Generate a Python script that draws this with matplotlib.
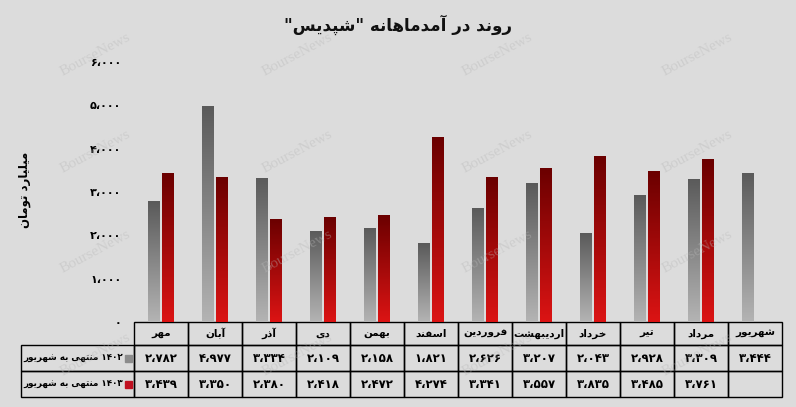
"""
plot.py – monthly revenue trend for "شپدیس" (gray vs red bars + data table).
"""
import numpy as np
import matplotlib
matplotlib.use("Agg")
import matplotlib.pyplot as plt
import matplotlib.patches as mpatches
from matplotlib.table import Table

BG = "#dcdcdc"

months = ["مهر", "آبان", "آذر", "دی", "بهمن", "اسفند", "فروردین",
          "اردیبهشت", "خرداد", "تیر", "مرداد", "شهریور"]
rev_1402 = [2782, 4977, 3334, 2109, 2158, 1821, 2626, 3207, 2043, 2928, 3309, 3444]
rev_1403 = [3439, 3350, 2380, 2418, 2472, 4274, 3341, 3557, 3835, 3485, 3761, None]
series_names = ["منتهی به شهریور", "منتهی به شهریور"]
series_years = ["۱۴۰۲", "۱۴۰۳"]
yticks = [0, 1000, 2000, 3000, 4000, 5000, 6000]

title_txt = 'روند در آمدماهانه "شپدیس"'
ylabel_txt = "میلیارد تومان"

# ── tiny arabic/persian shaper (matplotlib has no text shaping) ───────────────
# forms: isolated, final, initial, medial (2 forms = joins only to the right)
FORMS = {
    "ا": "\uFE8D\uFE8E", "آ": "\uFE81\uFE82",
    "د": "\uFEA9\uFEAA", "ذ": "\uFEAB\uFEAC",
    "ر": "\uFEAD\uFEAE", "و": "\uFEED\uFEEE",
    "ب": "\uFE8F\uFE90\uFE91\uFE92", "پ": "\uFB56\uFB57\uFB58\uFB59",
    "ت": "\uFE95\uFE96\uFE97\uFE98", "خ": "\uFEA5\uFEA6\uFEA7\uFEA8",
    "س": "\uFEB1\uFEB2\uFEB3\uFEB4", "ش": "\uFEB5\uFEB6\uFEB7\uFEB8",
    "ف": "\uFED1\uFED2\uFED3\uFED4", "ل": "\uFEDD\uFEDE\uFEDF\uFEE0",
    "م": "\uFEE1\uFEE2\uFEE3\uFEE4", "ن": "\uFEE5\uFEE6\uFEE7\uFEE8",
    "ه": "\uFEE9\uFEEA\uFEEB\uFEEC", "ی": "\uFBFC\uFBFD\uFBFE\uFBFF",
}


def fa(text):
    out = []
    for i, ch in enumerate(text):
        f = FORMS.get(ch)
        if f is None:
            out.append(ch)
            continue
        prev = text[i - 1] if i > 0 else ""
        nxt = text[i + 1] if i + 1 < len(text) else ""
        jp = prev in FORMS and len(FORMS[prev]) == 4
        jn = nxt in FORMS and len(f) == 4
        out.append(f[int(jp) + 2 * int(jn)])
    # reverse for visual order, keeping digit runs left-to-right
    runs, cur = [], ""
    for ch in out:
        if ch.isdigit() or (cur and ch in "،٬"):
            cur += ch
        else:
            if cur:
                runs.append(cur)
                cur = ""
            runs.append(ch)
    if cur:
        runs.append(cur)
    return "".join(reversed(runs))


PDIG = str.maketrans("0123456789", "۰۱۲۳۴۵۶۷۸۹")


def fnum(v):
    if v is None:
        return ""
    return f"{v:,}".replace(",", "،").translate(PDIG)


FONT = ["DejaVu Sans"]

# ── figure ────────────────────────────────────────────────────────────────────
AX_W, AX_H = 648, 260  # axes size in pixels
fig = plt.figure(figsize=(7.96, 4.07), dpi=100)
fig.patch.set_facecolor(BG)
ax = fig.add_axes([134 / 796, 1 - 322 / 407, AX_W / 796, AX_H / 407])
ax.set_facecolor("none")

x = np.arange(len(months))
w = 0.22
off = 0.135
v02 = np.array(rev_1402, dtype=float)
v03 = np.array([0 if v is None else v for v in rev_1403], dtype=float)

bars_g = ax.bar(x - off, v02, w, color="#888888", zorder=2)
bars_r = ax.bar(x + off, v03, w, color="#b00000", zorder=2)

# vertical gradients clipped to each bar
grad = np.linspace(0, 1, 256).reshape(-1, 1)
cm_g = matplotlib.colors.LinearSegmentedColormap.from_list("g", ["#b4b4b4", "#5a5a5a"])
cm_r = matplotlib.colors.LinearSegmentedColormap.from_list("r", ["#dc1414", "#6a0000"])
for bars, cm in ((bars_g, cm_g), (bars_r, cm_r)):
    for b in bars:
        h = b.get_height()
        if not h:
            continue
        bx = b.get_x()
        im = ax.imshow(grad, cmap=cm, aspect="auto", origin="lower",
                       extent=[bx, bx + b.get_width(), 0, h], zorder=3)
        im.set_clip_path(b)
ax.set_xlim(-0.5, len(months) - 0.5)
ax.set_ylim(0, 6000)

ax.set_xticks([])
ax.set_yticks(yticks)
ax.set_yticklabels([fnum(t) for t in yticks], fontsize=8, fontweight="bold",
                   family=FONT)
ax.tick_params(axis="y", length=0, pad=9)
for s in ax.spines.values():
    s.set_visible(False)

# ── data table (cell sizes in axes fractions) ─────────────────────────────────
cw, lw = 1 / len(months), 113 / AX_W
rh = [23 / AX_H, 26 / AX_H, 26 / AX_H]
tab = Table(ax, bbox=[0, -sum(rh), 1, sum(rh)])
for j, m in enumerate(months):
    tab.add_cell(0, j, cw, rh[0], text=fa(m), loc="center", facecolor="none")
rows = [rev_1402, rev_1403]
for i, vals in enumerate(rows):
    label = fa(series_names[i]) + " " + series_years[i]
    c = tab.add_cell(i + 1, -1, lw, rh[i + 1], text=label, loc="right",
                     facecolor="none")
    c.PAD = 0.1
    for j, v in enumerate(vals):
        tab.add_cell(i + 1, j, cw, rh[i + 1], text=fnum(v), loc="center",
                     facecolor="none")
tab.auto_set_font_size(False)
tab.set_fontsize(8.5)
for (r, col), cell in tab.get_celld().items():
    cell.set_edgecolor("black")
    cell.set_linewidth(1.0)
    t = cell.get_text()
    t.set_fontweight("bold")
    t.set_family(FONT)
    if r == 0:
        t.set_fontsize(7.5)
    elif col == -1:
        t.set_fontsize(6.3)
ax.add_table(tab)

# legend keys inside the row-label cells
for yc, col in ((-36.5 / AX_H, "#8c8c8c"), (-62.5 / AX_H, "#c01020")):
    ax.add_patch(mpatches.Rectangle((-9 / AX_W, yc - 3.5 / AX_H), 7 / AX_W, 7 / AX_H,
                                    transform=ax.transAxes, color=col,
                                    clip_on=False, zorder=5))

# ── titles ────────────────────────────────────────────────────────────────────
fig.text(0.5, 1 - 25 / 407, fa(title_txt), ha="center", va="center",
         fontsize=12, fontweight="bold", family=FONT, color="#111111")
fig.text(25 / 796, 1 - 190 / 407, fa(ylabel_txt), ha="center", va="center",
         rotation=90, fontsize=8.5, fontweight="bold", family=FONT)

# faint watermark grid
for wx in (95, 297, 497, 697):
    for wy in (55, 152, 252, 355):
        fig.text(wx / 796, 1 - wy / 407, "BourseNews", ha="center", va="center",
                 rotation=28, fontsize=11, family="Liberation Serif",
                 color="#b8b8b8", alpha=0.4, zorder=10)

fig.savefig("out.png", dpi=100, facecolor=BG)
plt.close(fig)
